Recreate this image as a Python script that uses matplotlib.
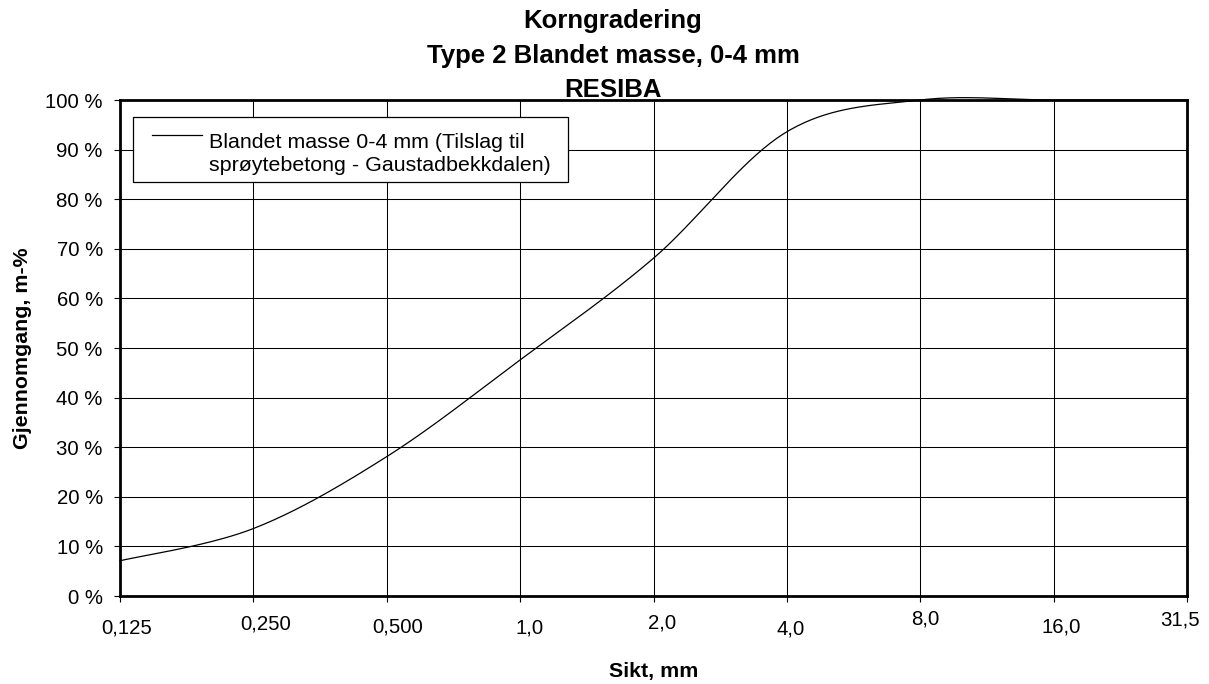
import matplotlib
matplotlib.use("Agg")
import matplotlib.pyplot as plt
import numpy as np
from matplotlib.patches import Rectangle
from matplotlib.lines import Line2D
from matplotlib.transforms import ScaledTranslation

plt.rcParams["font.family"] = ["Liberation Sans", "DejaVu Sans"]

# Sieve sizes (mm) and passing (m-%)
sieves = ["0,125", "0,250", "0,500", "1,0", "2,0", "4,0", "8,0", "16,0", "31,5"]
passing = [7.1, 13.6, 28.1, 47.6, 68.1, 93.6, 100.0, 100.0, 100.0]
y_ticks = [0, 10, 20, 30, 40, 50, 60, 70, 80, 90, 100]
title_lines = ["Korngradering", "Type 2 Blandet masse, 0-4 mm", "RESIBA"]
series_label = ["Blandet masse 0-4 mm (Tilslag til", "sprøytebetong - Gaustadbekkdalen)"]

W, H = 1209, 684


def fx(x):
    return x / W


def fy(y):
    return 1 - y / H


# Excel style smoothed line (Catmull-Rom as cubic Bezier)
def smooth(xs, ys, n=40):
    p = np.column_stack([xs, ys]).astype(float)
    p = np.vstack([p[0], p, p[-1]])
    t = np.linspace(0, 1, n)[:, None]
    segs = []
    for i in range(1, len(p) - 2):
        p0, p1, p2, p3 = p[i - 1], p[i], p[i + 1], p[i + 2]
        b1 = p1 + (p2 - p0) / 6
        b2 = p2 - (p3 - p1) / 6
        seg = ((1 - t) ** 3) * p1 + 3 * ((1 - t) ** 2) * t * b1 + 3 * (1 - t) * t ** 2 * b2 + t ** 3 * p2
        segs.append(seg if i == 1 else seg[1:])
    out = np.vstack(segs)
    return out[:, 0], out[:, 1]


fig = plt.figure(figsize=(W / 100, H / 100), dpi=100)
ax = fig.add_axes([fx(120), 1 - 596 / H, 1067 / W, 496 / H])

xpos = np.arange(len(sieves))
sx, sy = smooth(xpos, passing)
ax.plot(sx, sy, color="black", lw=0.9, clip_on=False, zorder=2)

ax.set_xlim(xpos[0], xpos[-1])
ax.set_ylim(0, 100)
ax.set_xticks(xpos)
ax.set_xticklabels(sieves)
ax.set_yticks(y_ticks)
ax.set_yticklabels([f"{v} %" for v in y_ticks])

ax.grid(True, color="black", lw=0.75)
ax.set_axisbelow(True)
for sp in ax.spines.values():
    sp.set_linewidth(2.0)
    sp.set_color("black")

ax.tick_params(axis="both", direction="out", length=4.5, width=0.8, color="black",
               labelsize=14.7, labelcolor="black")
ax.tick_params(axis="y", pad=7.9)
ax.tick_params(axis="x", pad=11.5)

# Excel renders the category labels slightly staggered
dx_px = [7, 12, 11, 9, 9, 4, 5, 8, -7]
dy_px = [0, 4, 1, 0, 5, -1, 9, 1, 8]
for lbl, dx, dy in zip(ax.get_xticklabels(), dx_px, dy_px):
    lbl.set_transform(lbl.get_transform() + ScaledTranslation(dx / 100, dy / 100, fig.dpi_scale_trans))

ax.set_xlabel("Sikt, mm", fontsize=15.4, fontweight="bold", va="baseline")
ax.xaxis.set_label_coords(0.5, (596 - 677) / 496)
ax.set_ylabel("Gjennomgang, m-%", fontsize=15.4, fontweight="bold", va="center")
ax.yaxis.set_label_coords((22 - 120) / 1067, 0.5)

for line, yb in zip(title_lines, [28, 63, 97]):
    fig.text(fx(613), fy(yb), line, ha="center", va="baseline",
             fontsize=18.5, fontweight="bold")

# legend box
fig.add_artist(Rectangle((fx(133), fy(182)), (568 - 133) / W, (182 - 117) / H,
                         transform=fig.transFigure, facecolor="white",
                         edgecolor="black", lw=0.9, zorder=5))
fig.add_artist(Line2D([fx(152), fx(202)], [fy(135), fy(135)], transform=fig.transFigure,
                      color="black", lw=0.9, zorder=6))
for line, yb in zip(series_label, [147.5, 171]):
    fig.text(fx(209), fy(yb), line, ha="left", va="baseline", fontsize=15.4, zorder=6)

fig.savefig("out.png", dpi=100)
